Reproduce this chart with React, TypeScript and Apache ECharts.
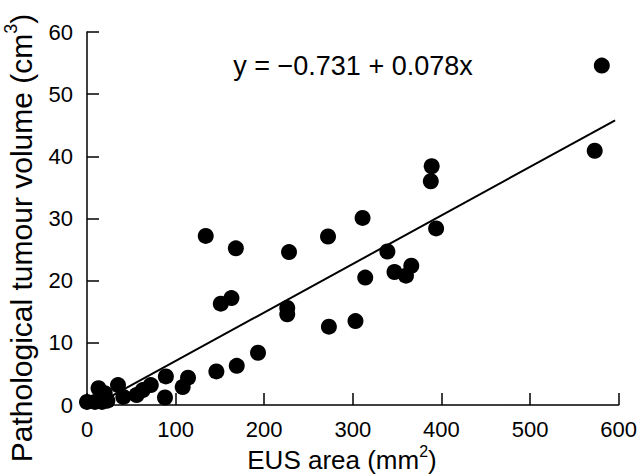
import React, { useEffect, useRef } from "react";
import * as echarts from "echarts";

const eusArea: number[] = [0, 9, 17, 23, 13, 20, 35, 41, 56, 63, 72, 89, 88, 114, 108, 146, 169, 193, 151, 163, 134, 168, 226, 226, 228, 273, 272, 303, 311, 314, 339, 347, 360, 366, 389, 388, 394, 573, 581];
const tumourVolume: number[] = [0.5, 0.5, 0.5, 0.7, 2.7, 1.9, 3.2, 1.3, 1.6, 2.4, 3.2, 4.6, 1.2, 4.4, 2.9, 5.4, 6.3, 8.4, 16.3, 17.2, 27.2, 25.2, 15.6, 14.6, 24.6, 12.6, 27.1, 13.5, 30.1, 20.5, 24.7, 21.4, 20.8, 22.4, 38.4, 36.0, 28.4, 40.9, 54.6];
const fitLineX: number[] = [10, 596];
const fitLineY: number[] = [0.05, 45.8];
const xTicks = { min: 0, max: 600, interval: 100 };
const yTicks = { min: 0, max: 60, interval: 10 };
const equationText = "y = \u22120.731 + 0.078x";

export default function App() {
  const ref = useRef<HTMLDivElement>(null);
  useEffect(() => {
    if (!ref.current) return;
    const chart = echarts.init(ref.current, undefined, { renderer: "svg" });
    const font = "Liberation Sans";
    const axisCommon = {
      axisLine: { show: true, lineStyle: { color: "#000", width: 1.5 } },
      axisTick: { show: true, inside: true, length: 12, lineStyle: { color: "#000", width: 1.5 } },
      splitLine: { show: false },
      axisLabel: { color: "#000", fontSize: 22, fontFamily: font },
    };
    chart.setOption({
      animation: false,
      backgroundColor: "#fff",
      grid: { left: 87, right: 18, top: 32, bottom: 71, containLabel: false },
      xAxis: {
        type: "value",
        ...xTicks,
        ...axisCommon,
        axisLabel: { ...axisCommon.axisLabel, margin: 13 },
      },
      yAxis: {
        type: "value",
        ...yTicks,
        ...axisCommon,
        axisLabel: { ...axisCommon.axisLabel, margin: 14 },
      },
      graphic: [
        {
          type: "text",
          x: 353,
          y: 66,
          style: {
            text: equationText,
            fontSize: 27,
            fontFamily: font,
            fill: "#000",
            align: "center",
            verticalAlign: "middle",
          },
        },
        {
          type: "text",
          x: 342,
          y: 458,
          style: {
            text: "{a|EUS area (mm}{s|2}{a|)}",
            align: "center",
            verticalAlign: "middle",
            rich: {
              a: { fontSize: 26, fontFamily: font, fill: "#000", lineHeight: 30, verticalAlign: "bottom" },
              s: { fontSize: 16, fontFamily: font, fill: "#000", lineHeight: 30, verticalAlign: "top" },
            },
          },
        },
        {
          type: "text",
          x: 19,
          y: 238,
          rotation: Math.PI / 2,
          style: {
            text: "{a|Pathological tumour volume (cm}{s|3}{a|)}",
            align: "center",
            verticalAlign: "middle",
            rich: {
              a: { fontSize: 30, fontFamily: font, fill: "#000", lineHeight: 34, verticalAlign: "bottom" },
              s: { fontSize: 18, fontFamily: font, fill: "#000", lineHeight: 34, verticalAlign: "top" },
            },
          },
        },
      ],
      series: [
        {
          type: "line",
          data: fitLineX.map((x, i) => [x, fitLineY[i]]),
          showSymbol: false,
          lineStyle: { color: "#000", width: 2 },
          z: 2,
        },
        {
          type: "scatter",
          data: eusArea.map((x, i) => [x, tumourVolume[i]]),
          symbol: "circle",
          symbolSize: 16,
          itemStyle: { color: "#000", opacity: 1 },
          z: 3,
        },
      ],
    });
    return () => chart.dispose();
  }, []);
  return <div ref={ref} style={{ position: "fixed", left: 0, top: 0, width: 640, height: 476 }} />;
}
